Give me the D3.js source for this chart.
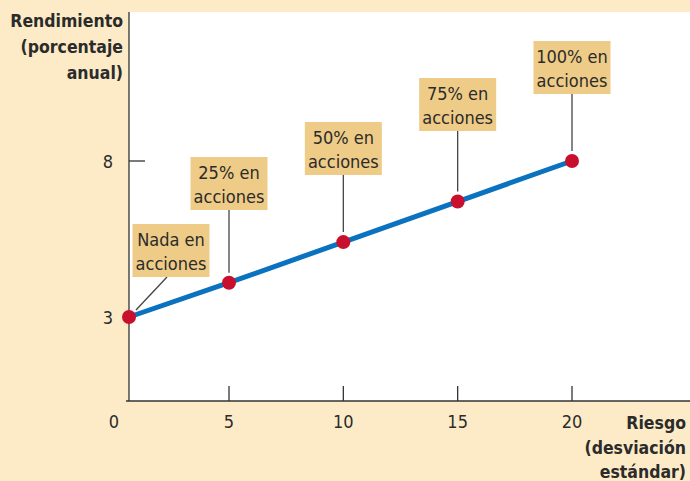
<!DOCTYPE html>
<html><head><meta charset="utf-8">
<script src="https://cdn.jsdelivr.net/npm/d3@7"></script>
<style>
html,body{margin:0;padding:0;background:#fdebc8;}
svg{display:block;}
text{font-family:"Liberation Sans Narrow","DejaVu Sans Condensed","Arial Narrow",sans-serif;fill:#2b2b2b;}
</style></head><body>
<svg id="chart" width="690" height="481"></svg>
<script>
// Data
const risk = [0, 5, 10, 15, 20];
const returns = [3, 4.1, 5.4, 6.7, 8];
const labelLine1 = ["Nada en", "25% en", "50% en", "75% en", "100% en"];
const labelLine2 = ["acciones", "acciones", "acciones", "acciones", "acciones"];
const xTicks = [0, 5, 10, 15, 20];
const yTicks = [3, 8];
const yTitle = ["Rendimiento", "(porcentaje", "anual)"];
const xTitle = ["Riesgo", "(desviación", "estándar)"];

const W = 690, H = 481;
const plot = {left: 129, right: 690, top: 12, bottom: 401};
const svg = d3.select("#chart");

const x = d3.scaleLinear().domain([0, 5, 20]).range([129, 229, 572]);
const y = d3.scaleLinear().domain([3, 8]).range([317, 161]);

// background
svg.append("rect").attr("width", W).attr("height", H).attr("fill", "#fdebc8");
svg.append("rect").attr("x", plot.left).attr("y", plot.top)
  .attr("width", plot.right - plot.left).attr("height", plot.bottom - plot.top).attr("fill", "#ffffff");

// axes lines
svg.append("line").attr("x1", plot.left).attr("x2", plot.left).attr("y1", plot.top).attr("y2", plot.bottom)
  .attr("stroke", "#333").attr("stroke-width", 1.3);
svg.append("line").attr("x1", plot.left - 3).attr("x2", plot.right).attr("y1", plot.bottom).attr("y2", plot.bottom)
  .attr("stroke", "#333").attr("stroke-width", 1.3);

// x ticks (inward)
svg.selectAll(".xt").data(xTicks.filter(d => d > 0)).enter().append("line")
  .attr("x1", d => x(d)).attr("x2", d => x(d)).attr("y1", plot.bottom - 15).attr("y2", plot.bottom)
  .attr("stroke", "#333").attr("stroke-width", 1.3);
svg.selectAll(".xl").data(xTicks).enter().append("text")
  .attr("x", d => x(d) - (d === 0 ? 15 : 0)).attr("y", 428)
  .attr("text-anchor", "middle").attr("font-size", 18).text(d => d);

// y ticks
svg.selectAll(".yt").data(yTicks.filter(d => d !== 3)).enter().append("line")
  .attr("x1", plot.left).attr("x2", plot.left + 16).attr("y1", d => y(d)).attr("y2", d => y(d))
  .attr("stroke", "#333").attr("stroke-width", 1.3);
svg.selectAll(".yl").data(yTicks).enter().append("text")
  .attr("x", 108).attr("y", d => y(d) + 6.5)
  .attr("text-anchor", "middle").attr("font-size", 18).text(d => d);

// titles
svg.append("text").attr("text-anchor", "end").attr("font-size", 17.5).attr("font-weight", "bold")
  .selectAll("tspan").data(yTitle).enter().append("tspan")
  .attr("x", 123).attr("y", (d, i) => 27 + i * 26).text(d => d);
svg.append("text").attr("text-anchor", "end").attr("font-size", 17.5).attr("font-weight", "bold")
  .selectAll("tspan").data(xTitle).enter().append("tspan")
  .attr("x", 686).attr("y", (d, i) => 429 + i * 24.5).text(d => d);

// line
const pts = risk.map((r, i) => [r, returns[i]]);
svg.append("path").datum(pts)
  .attr("d", d3.line().x(d => x(d[0])).y(d => y(d[1])))
  .attr("fill", "none").attr("stroke", "#0a72bf").attr("stroke-width", 5);

// annotation boxes
const boxW = 77, boxH = 53;
const boxTop = [224, 157, 122, 78, 41];
const ann = svg.selectAll(".ann").data(pts).enter().append("g");
// leader lines
ann.append("line")
  .attr("x1", (d, i) => i === 0 ? 167 : x(d[0]))
  .attr("y1", (d, i) => boxTop[i] + boxH)
  .attr("x2", (d, i) => i === 0 ? x(d[0]) + 7 : x(d[0]))
  .attr("y2", (d, i) => i === 0 ? y(d[1]) - 7 : y(d[1]) - 10)
  .attr("stroke", "#444").attr("stroke-width", 1.3);
ann.append("rect")
  .attr("x", (d, i) => (i === 0 ? 171 : x(d[0])) - boxW / 2)
  .attr("y", (d, i) => boxTop[i])
  .attr("width", boxW).attr("height", boxH).attr("fill", "#eecb86");
ann.append("text").attr("text-anchor", "middle").attr("font-size", 18)
  .attr("x", (d, i) => i === 0 ? 171 : x(d[0]))
  .attr("y", (d, i) => boxTop[i] + 22).text((d, i) => labelLine1[i]);
ann.append("text").attr("text-anchor", "middle").attr("font-size", 18)
  .attr("x", (d, i) => i === 0 ? 171 : x(d[0]))
  .attr("y", (d, i) => boxTop[i] + 46).text((d, i) => labelLine2[i]);

// dots
svg.selectAll(".dot").data(pts).enter().append("circle")
  .attr("cx", d => x(d[0])).attr("cy", d => y(d[1])).attr("r", 7)
  .attr("fill", "#c8102e");
</script>
</body></html>
